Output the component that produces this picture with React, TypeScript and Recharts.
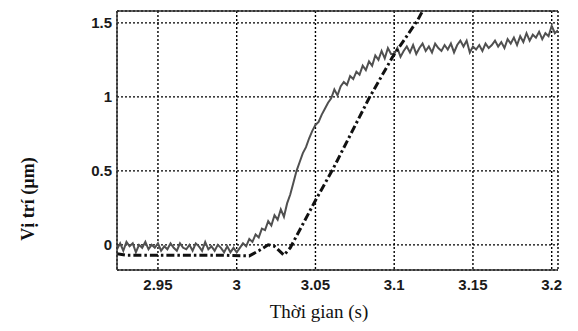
import React from 'react';
import { LineChart, Line, XAxis, YAxis, CartesianGrid, ReferenceLine } from 'recharts';

// solid trace: sampled every 2 ms from 2.924 s
const T0 = 2.924;
const DT = 0.002;
const measured = [
  -0.03, 0.01, -0.04, 0.02, -0.01, 0.01, -0.05, 0.0, -0.02, 0.02,
  -0.03, 0.0, -0.02, 0.01, -0.04, -0.01, -0.03, 0.01, -0.02, -0.04,
  0.01, -0.02, -0.03, 0.0, -0.04, 0.01, -0.01, -0.04, 0.02, -0.03,
  -0.01, -0.04, 0.0, -0.02, -0.05, -0.01, -0.05, -0.02, -0.05, -0.02,
  0.01, -0.01, 0.04, 0.02, 0.07, 0.05, 0.11, 0.1, 0.16, 0.13,
  0.2, 0.17, 0.24, 0.19, 0.28, 0.34, 0.42, 0.5, 0.56, 0.62,
  0.66, 0.72, 0.77, 0.81, 0.83, 0.88, 0.92, 0.96, 0.99, 1.05,
  1.01, 1.07, 1.1, 1.08, 1.14, 1.12, 1.17, 1.15, 1.21, 1.18,
  1.24, 1.21, 1.28, 1.25, 1.31, 1.26, 1.33, 1.29, 1.29, 1.33,
  1.27, 1.31, 1.34, 1.3, 1.35, 1.29, 1.33, 1.36, 1.31, 1.34,
  1.3, 1.36, 1.33, 1.31, 1.35, 1.32, 1.36, 1.3, 1.35, 1.38,
  1.34, 1.38, 1.3, 1.34, 1.32, 1.35, 1.31, 1.36, 1.33, 1.35,
  1.38, 1.34, 1.37, 1.33, 1.39, 1.36, 1.4, 1.35, 1.41, 1.37,
  1.43, 1.38, 1.42, 1.4, 1.44, 1.39, 1.43, 1.41, 1.48, 1.43,
  1.45,
];

// dash-dot trace (reference)
const refTimes = [2.924, 2.93, 2.95, 2.97, 2.99, 3.008, 3.014, 3.02, 3.024, 3.03, 3.034, 3.05, 3.061, 3.084, 3.099, 3.115, 3.12];
const refValues = [-0.06, -0.07, -0.07, -0.07, -0.07, -0.075, -0.04, 0.0, -0.01, -0.07, -0.02, 0.3, 0.51, 0.99, 1.27, 1.52, 1.62];

const xTicks = [2.95, 3, 3.05, 3.1, 3.15, 3.2];
const yTicks = [0, 0.5, 1, 1.5];
const xDomain = [2.924, 3.204];
const yDomain = [-0.17, 1.58];

const measuredData = measured.map((y, i) => ({ t: T0 + i * DT, y }));
const refData = refTimes.map((t, i) => ({ t, y: refValues[i] }));

const tickStyle = { fontFamily: 'Liberation Sans, Arial, sans-serif', fontWeight: 700, fontSize: 15, fill: '#1a1a1a' };

const App: React.FC = () => {
  return (
    <div style={{ position: 'absolute', left: 0, top: 0, background: '#fff' }}>
      <LineChart width={578} height={331} margin={{ top: 11, right: 20, bottom: 0, left: 0 }}>
        <CartesianGrid stroke="#000" strokeDasharray="2 2" strokeWidth={1.4} />
        <XAxis
          type="number"
          dataKey="t"
          domain={xDomain}
          allowDataOverflow
          ticks={xTicks}
          tickFormatter={(v: number) => String(v)}
          height={61}
          tickLine={false}
          tickMargin={3}
          axisLine={{ stroke: '#333', strokeWidth: 1.5 }}
          tick={tickStyle}
          label={{
            content: () => (
              <text x={319} y={318} textAnchor="middle" fontFamily="Liberation Serif, Times New Roman, serif" fontSize={19} fill="#111">
                Thời gian (s)
              </text>
            ),
          }}
        />
        <YAxis
          type="number"
          domain={yDomain}
          allowDataOverflow
          ticks={yTicks}
          width={117}
          tickLine={false}
          tickSize={3}
          tickMargin={2}
          axisLine={{ stroke: '#333', strokeWidth: 1.5 }}
          tick={tickStyle}
          label={{
            content: () => (
              <text
                x={28}
                y={199}
                transform="rotate(-90 28 199)"
                textAnchor="middle"
                dominantBaseline="central"
                fontFamily="Liberation Serif, Times New Roman, serif"
                fontWeight={700}
                fontSize={18}
                fill="#111"
              >
                Vị trí (µm)
              </text>
            ),
          }}
        />
        <ReferenceLine y={yDomain[1]} stroke="#333" strokeWidth={1.5} />
        <Line
          data={measuredData}
          dataKey="y"
          type="linear"
          stroke="#505050"
          strokeWidth={2}
          dot={false}
          isAnimationActive={false}
        />
        <Line
          data={refData}
          dataKey="y"
          type="linear"
          stroke="#111"
          strokeWidth={3}
          strokeDasharray="8 3 2.5 3"
          dot={false}
          isAnimationActive={false}
        />
      </LineChart>
    </div>
  );
};

export default App;
